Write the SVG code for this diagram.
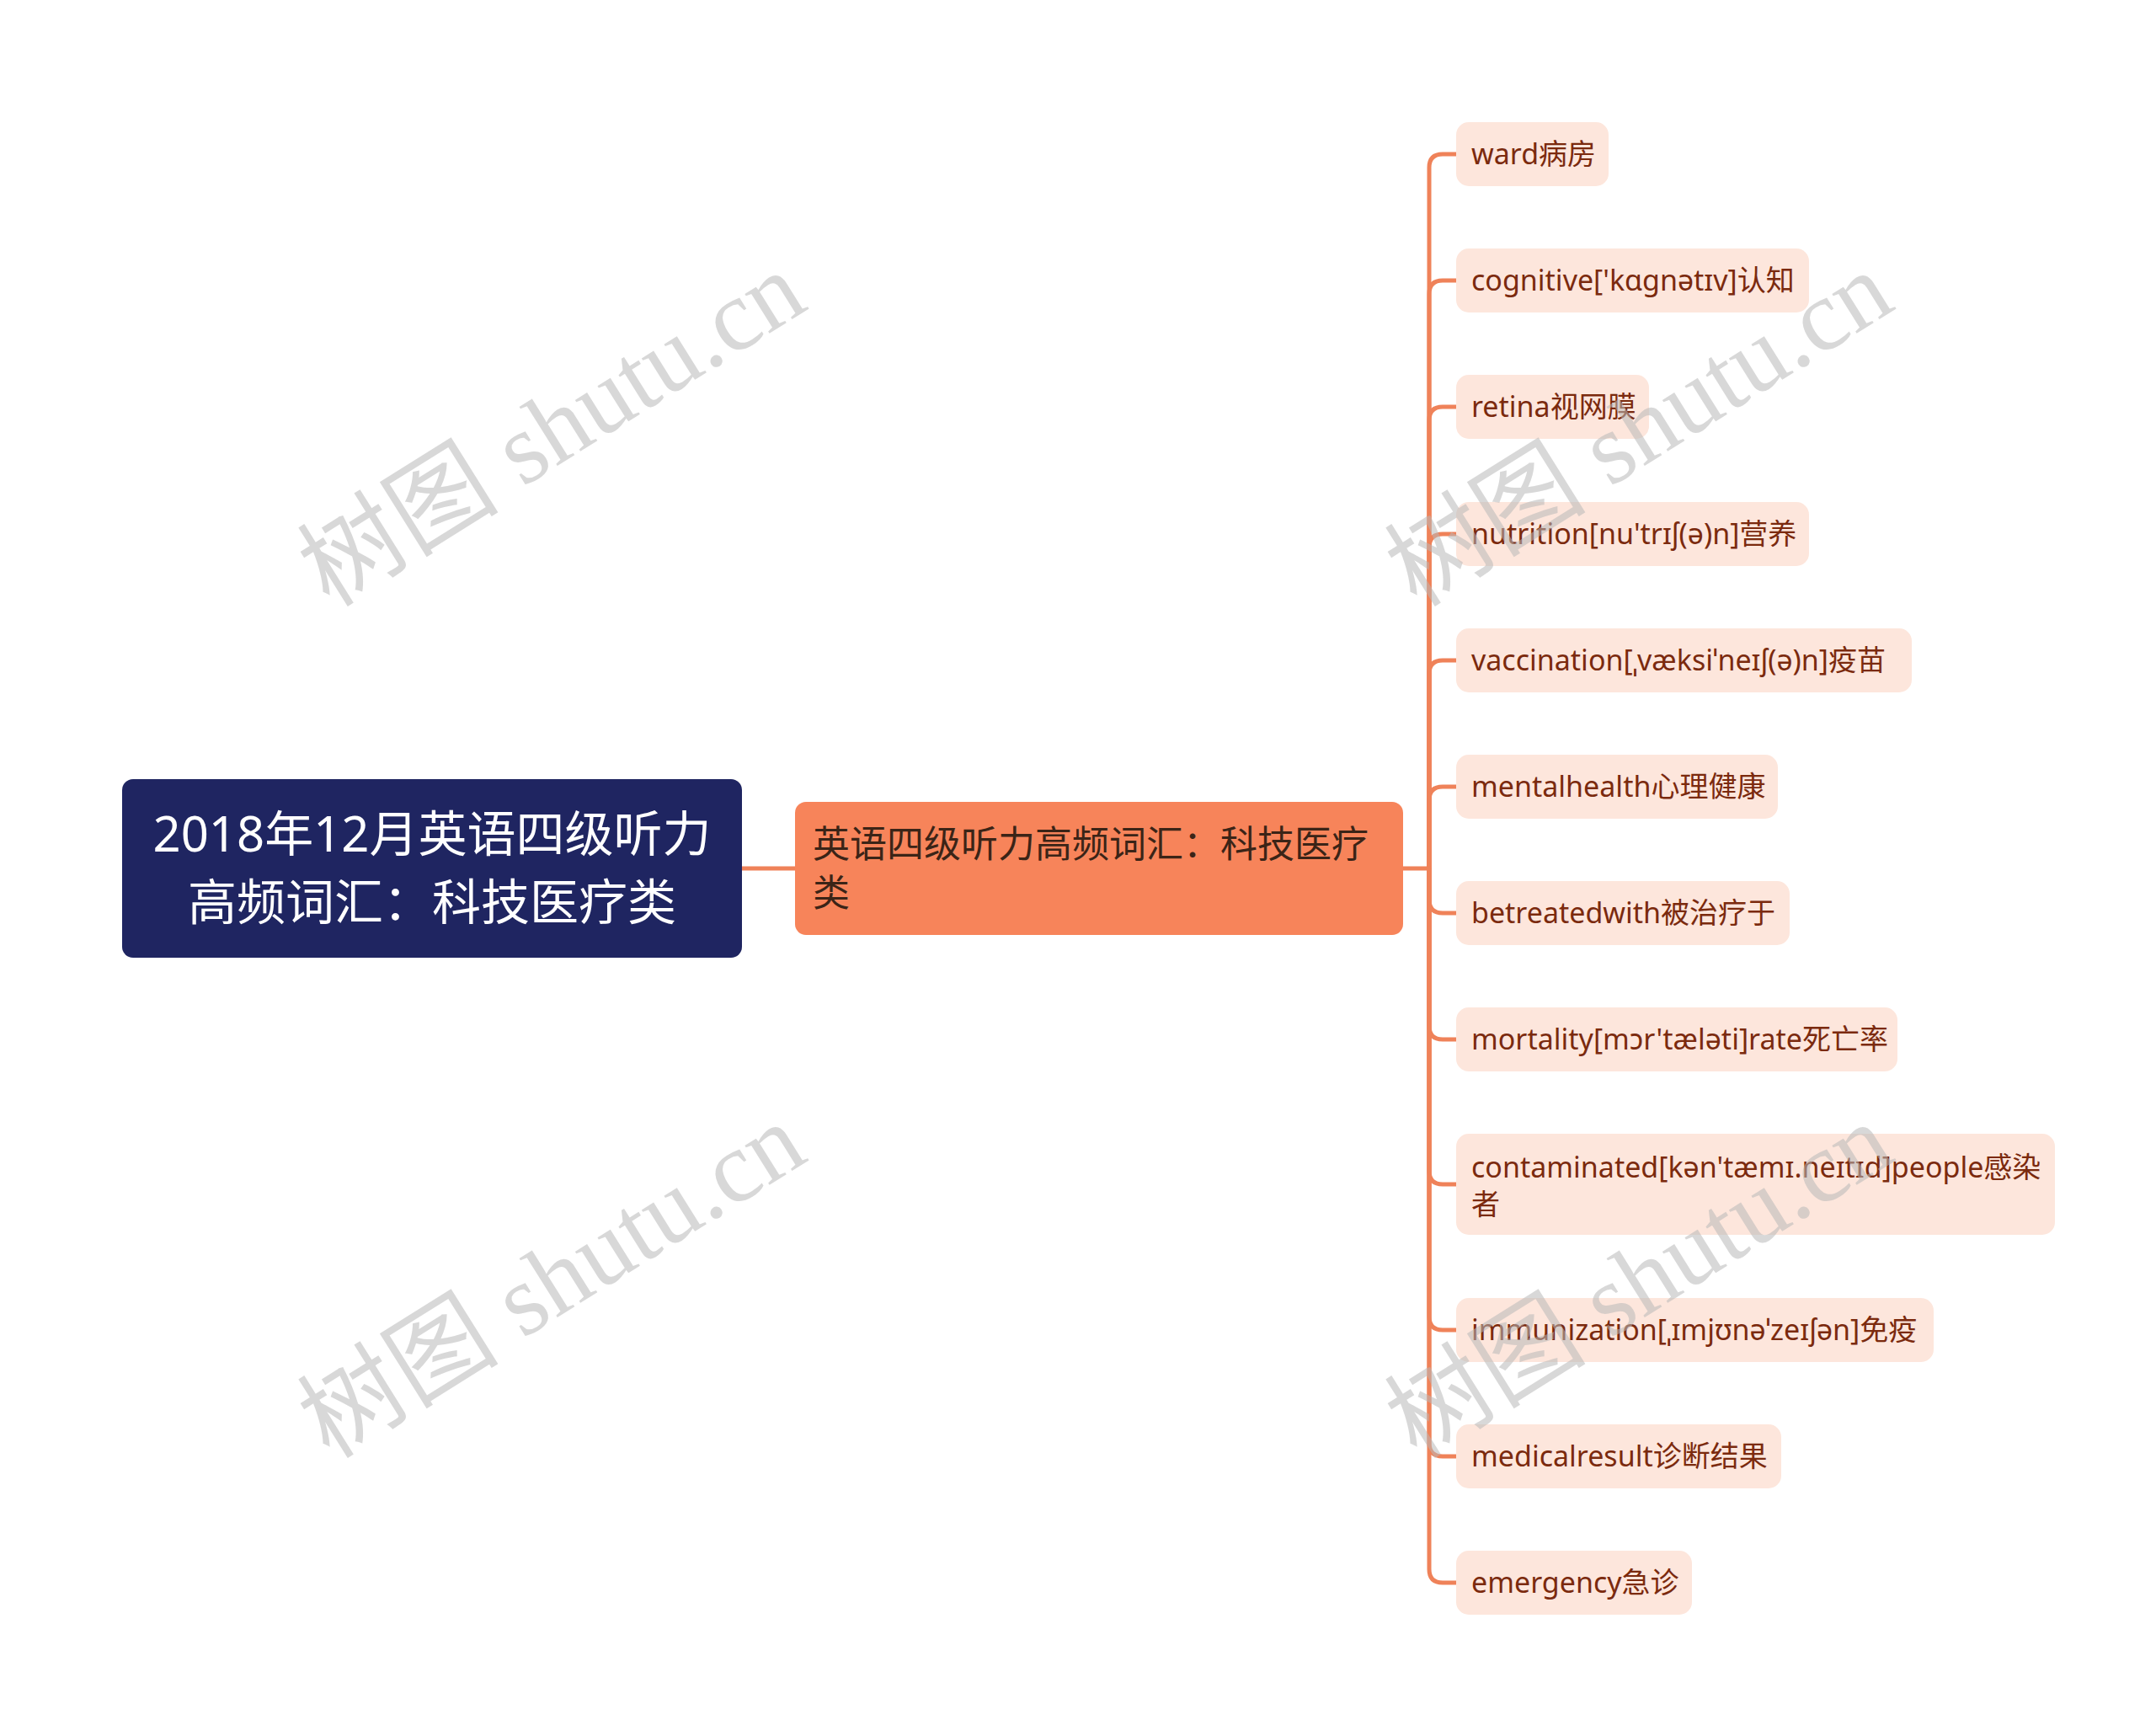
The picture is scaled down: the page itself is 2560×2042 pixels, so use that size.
<svg xmlns="http://www.w3.org/2000/svg" width="2560" height="2042" viewBox="0 0 2560 2042">
<style>
.conn{fill:none;stroke:#ef8259;stroke-width:5;stroke-linecap:round}
.leaf rect{fill:#fde6dc}
.leaf text{font-family:"Noto Sans","Noto Sans CJK SC",sans-serif;font-size:34px;fill:#7b2a0e}
.root text{font-family:"Noto Sans","Noto Sans CJK SC",sans-serif;font-size:58px;fill:#ffffff;text-anchor:middle}
.main text{font-family:"Noto Sans","Noto Sans CJK SC",sans-serif;font-size:44px;fill:#3b2417}
.wm{font-family:"Liberation Serif","Noto Sans CJK SC",serif;font-size:120px;fill:#b8b8b8;fill-opacity:0.55;text-anchor:middle}
</style>
<rect width="2560" height="2042" fill="#ffffff"/>
<g id="connectors">
<path class="conn" d="M881,1031 H944"/>
<path class="conn" d="M1666,1031 H1697 V199 Q1697,183 1713,183 H1729"/>
<path class="conn" d="M1697,1031 V349 Q1697,333 1713,333 H1729"/>
<path class="conn" d="M1697,1031 V499 Q1697,483 1713,483 H1729"/>
<path class="conn" d="M1697,1031 V650 Q1697,634 1713,634 H1729"/>
<path class="conn" d="M1697,1031 V800 Q1697,784 1713,784 H1729"/>
<path class="conn" d="M1697,1031 V950 Q1697,934 1713,934 H1729"/>
<path class="conn" d="M1697,1031 V1068 Q1697,1084 1713,1084 H1729"/>
<path class="conn" d="M1697,1031 V1218 Q1697,1234 1713,1234 H1729"/>
<path class="conn" d="M1697,1031 V1390 Q1697,1406 1713,1406 H1729"/>
<path class="conn" d="M1697,1031 V1563 Q1697,1579 1713,1579 H1729"/>
<path class="conn" d="M1697,1031 V1713 Q1697,1729 1713,1729 H1729"/>
<path class="conn" d="M1697,1031 V1863 Q1697,1879 1713,1879 H1729"/>
</g>
<g id="root" class="root">
<rect x="145" y="925" width="736" height="212" rx="13" fill="#1f2561"/>
<text x="513" y="1011">2018年12月英语四级听力</text>
<text x="513" y="1092">高频词汇：科技医疗类</text>
</g>
<g id="main" class="main">
<rect x="944" y="952" width="722" height="158" rx="13" fill="#f7845a"/>
<text x="965" y="1018">英语四级听力高频词汇：科技医疗</text>
<text x="965" y="1076">类</text>
</g>
<g id="leaf1" class="leaf"><rect x="1729" y="145" width="181" height="76" rx="15"/><text x="1747" y="195">ward病房</text></g>
<g id="leaf2" class="leaf"><rect x="1729" y="295" width="419" height="76" rx="15"/><text x="1747" y="345">cognitive['kɑgnətɪv]认知</text></g>
<g id="leaf3" class="leaf"><rect x="1729" y="445" width="229" height="76" rx="15"/><text x="1747" y="495">retina视网膜</text></g>
<g id="leaf4" class="leaf"><rect x="1729" y="596" width="419" height="76" rx="15"/><text x="1747" y="646">nutrition[nu'trɪʃ(ə)n]营养</text></g>
<g id="leaf5" class="leaf"><rect x="1729" y="746" width="541" height="76" rx="15"/><text x="1747" y="796">vaccination[ˌvæksiˈneɪʃ(ə)n]疫苗</text></g>
<g id="leaf6" class="leaf"><rect x="1729" y="896" width="382" height="76" rx="15"/><text x="1747" y="946">mentalhealth心理健康</text></g>
<g id="leaf7" class="leaf"><rect x="1729" y="1046" width="396" height="76" rx="15"/><text x="1747" y="1096">betreatedwith被治疗于</text></g>
<g id="leaf8" class="leaf"><rect x="1729" y="1196" width="524" height="76" rx="15"/><text x="1747" y="1246">mortality[mɔr'tæləti]rate死亡率</text></g>
<g id="leaf9" class="leaf"><rect x="1729" y="1346" width="711" height="120" rx="15"/><text x="1747" y="1398">contaminated[kən'tæmɪ.neɪtɪd]people感染</text><text x="1747" y="1442">者</text></g>
<g id="leaf10" class="leaf"><rect x="1729" y="1541" width="567" height="76" rx="15"/><text x="1747" y="1591">immunization[ˌɪmjʊnəˈzeɪʃən]免疫</text></g>
<g id="leaf11" class="leaf"><rect x="1729" y="1691" width="386" height="76" rx="15"/><text x="1747" y="1741">medicalresult诊断结果</text></g>
<g id="leaf12" class="leaf"><rect x="1729" y="1841" width="280" height="76" rx="15"/><text x="1747" y="1891">emergency急诊</text></g>
<g id="watermarks">
<text class="wm" x="655" y="550" transform="rotate(-32 655 509)">树图 shutu.cn</text>
<text class="wm" x="1946" y="550" transform="rotate(-32 1946 509)">树图 shutu.cn</text>
<text class="wm" x="655" y="1561" transform="rotate(-32 655 1520)">树图 shutu.cn</text>
<text class="wm" x="1946" y="1561" transform="rotate(-32 1946 1520)">树图 shutu.cn</text>
</g>
</svg>
